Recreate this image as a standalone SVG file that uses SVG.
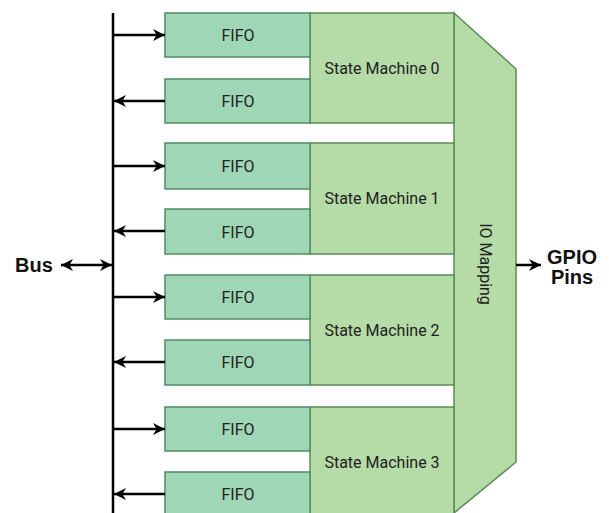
<svg xmlns="http://www.w3.org/2000/svg" width="609" height="513" viewBox="0 0 609 513">
<defs>
<style>
.fifo{fill:#9fd6b5;stroke:#4f8c63;stroke-width:1.5}
.sm{fill:#b5dba7;stroke:#5b8a55;stroke-width:1.5}
.lbl{font-family:Roboto,"Liberation Sans",sans-serif;font-size:16px;fill:#222;text-anchor:middle}
.big{font-family:"Liberation Sans",Arial,sans-serif;font-size:20px;font-weight:bold;fill:#111;text-anchor:middle}
.wire{stroke:#000;stroke-width:2.5;fill:none}
</style>
<marker id="ah" viewBox="0 0 10 10" refX="10" refY="5" markerWidth="12" markerHeight="12" markerUnits="userSpaceOnUse" orient="auto-start-reverse">
<path d="M0,0 L10,5 L0,10 L3,5 Z" fill="#000"/>
</marker>
</defs>
<rect width="609" height="513" fill="#fff"/>
<g id="io-mapping">
<polygon class="sm" points="454,13 516,69 516,462 454,513"/>
<text class="lbl" transform="translate(480,264) rotate(90)">IO Mapping</text>
</g>
<g id="sm0"><rect class="sm" x="310" y="13" width="144" height="110"/><text class="lbl" x="382" y="74">State Machine 0</text></g>
<g id="sm1"><rect class="sm" x="310" y="143" width="144" height="111"/><text class="lbl" x="382" y="204">State Machine 1</text></g>
<g id="sm2"><rect class="sm" x="310" y="275" width="144" height="110"/><text class="lbl" x="382" y="336">State Machine 2</text></g>
<g id="sm3"><rect class="sm" x="310" y="407" width="144" height="110"/><text class="lbl" x="382" y="468">State Machine 3</text></g>
<g id="fifo0a"><rect class="fifo" x="165" y="13" width="145" height="44"/><text class="lbl" x="238" y="41">FIFO</text></g>
<g id="fifo0b"><rect class="fifo" x="165" y="79" width="145" height="44"/><text class="lbl" x="238" y="107">FIFO</text></g>
<g id="fifo1a"><rect class="fifo" x="165" y="143" width="145" height="46"/><text class="lbl" x="238" y="172">FIFO</text></g>
<g id="fifo1b"><rect class="fifo" x="165" y="209" width="145" height="45"/><text class="lbl" x="238" y="238">FIFO</text></g>
<g id="fifo2a"><rect class="fifo" x="165" y="275" width="145" height="44"/><text class="lbl" x="238" y="303">FIFO</text></g>
<g id="fifo2b"><rect class="fifo" x="165" y="340" width="145" height="45"/><text class="lbl" x="238" y="368">FIFO</text></g>
<g id="fifo3a"><rect class="fifo" x="165" y="407" width="145" height="44"/><text class="lbl" x="238" y="435">FIFO</text></g>
<g id="fifo3b"><rect class="fifo" x="165" y="472" width="145" height="45"/><text class="lbl" x="238" y="500">FIFO</text></g>
<g id="bus-label"><text class="big" x="34" y="272">Bus</text></g>
<g id="gpio-label"><text class="big" x="572" y="264">GPIO</text><text class="big" x="572" y="284">Pins</text></g>
<g id="connectors">
<line class="wire" x1="113" y1="13" x2="113" y2="513" stroke-width="3"/>
<line class="wire" x1="61" y1="265" x2="112" y2="265" marker-start="url(#ah)" marker-end="url(#ah)"/>
<line class="wire" x1="113" y1="35" x2="165" y2="35" marker-end="url(#ah)"/>
<line class="wire" x1="165" y1="101" x2="114" y2="101" marker-end="url(#ah)"/>
<line class="wire" x1="113" y1="166" x2="165" y2="166" marker-end="url(#ah)"/>
<line class="wire" x1="165" y1="231" x2="114" y2="231" marker-end="url(#ah)"/>
<line class="wire" x1="113" y1="297" x2="165" y2="297" marker-end="url(#ah)"/>
<line class="wire" x1="165" y1="362" x2="114" y2="362" marker-end="url(#ah)"/>
<line class="wire" x1="113" y1="429" x2="165" y2="429" marker-end="url(#ah)"/>
<line class="wire" x1="165" y1="494" x2="114" y2="494" marker-end="url(#ah)"/>
<line class="wire" x1="516" y1="265" x2="541" y2="265" marker-end="url(#ah)"/>
</g>
</svg>
